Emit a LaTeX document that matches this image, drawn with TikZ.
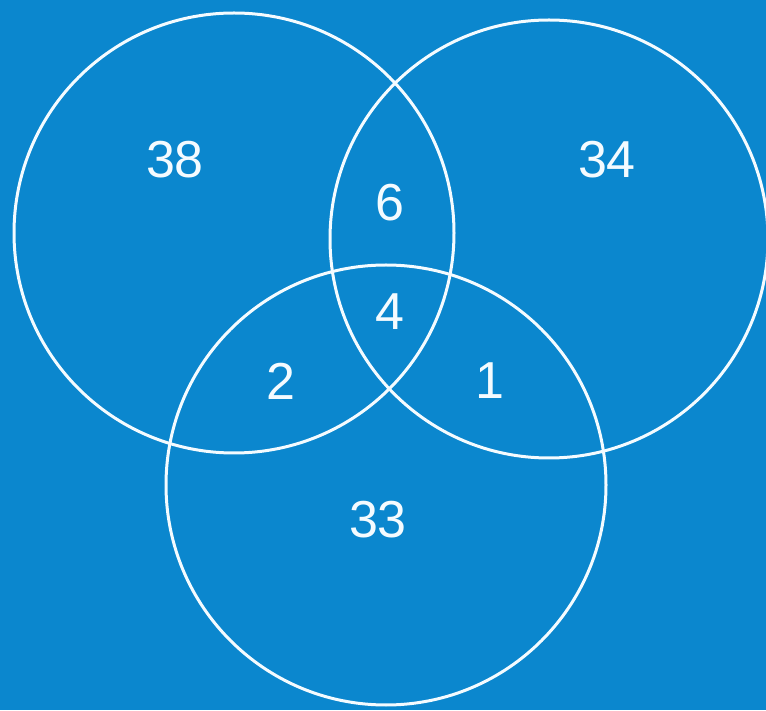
\documentclass[tikz,border=0pt]{standalone}
\usepackage{fontspec}
\setmainfont{Liberation Sans}
\usepackage{xcolor}
\usepackage{tikz}
\definecolor{skyblue}{HTML}{0B87CE}
\definecolor{ringwhite}{HTML}{F4FBFF}

\begin{document}
\begin{tikzpicture}[x=1pt, y=1pt,
      ring/.style={draw=ringwhite, line width=3pt, circle,
                   minimum size=440pt, inner sep=0pt},
      count/.style={text=ringwhite, font=\fontsize{52}{52}\selectfont,
                    inner sep=0pt},
    ]
      \fill[skyblue] (0, 0) rectangle (766, 710);
      \useasboundingbox (0, 0) rectangle (766, 710);
      % the three sets
      \node[ring] (setA) at (234, 477) {};
      \node[ring, minimum size=438pt] (setB) at (549, 471) {};
      \node[ring] (setC) at (386, 225) {};
      % region counts
      \node[count] (onlyA) at (175, 550) {38};
      \node[count] (onlyB) at (607, 550) {34};
      \node[count] (onlyC) at (378, 190) {33};
      \node[count] (ab) at (390, 507) {6};
      \node[count] (abc) at (390, 398) {4};
      \node[count] (ac) at (281, 329) {2};
      \node[count] (bc) at (490, 329) {1};
    \end{tikzpicture}
\end{document}
